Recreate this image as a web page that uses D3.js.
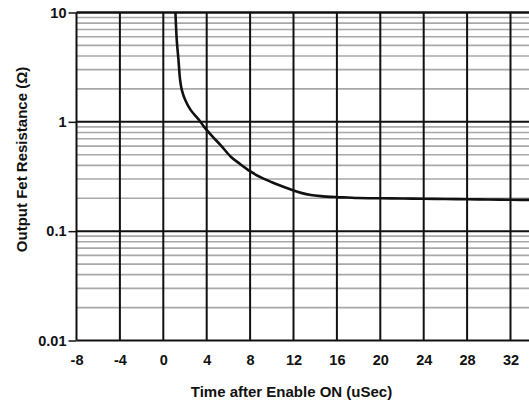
<!DOCTYPE html>
<html><head><meta charset="utf-8">
<script src="https://cdn.jsdelivr.net/npm/d3@7"></script>
<style>body{margin:0;background:#fff;} svg{display:block;font-family:"Liberation Sans",Arial,sans-serif;}</style>
</head><body><svg id="c" width="529" height="406"></svg>
<script>
const xTicks = [-8,-4,0,4,8,12,16,20,24,28,32,36];
const xTickLabels = ["-8","-4","0","4","8","12","16","20","24","28","32",""];
const yTicks = [0.01,0.1,1,10];
const yTickLabels = ["0.01","0.1","1","10"];
const timeUs = [1.12,1.24,1.40,1.55,1.71,2.02,2.53,3.30,3.76,4.5,5.3,6.22,7.1,8.06,9,10,11,11.75,12.7,13.6,14.5,15.9,17,18,20,22,24,26,28,30,32,34,36];
const resistance = [10,5.6,3.67,2.41,1.95,1.585,1.28,1.04,0.90,0.74,0.61,0.48,0.41,0.35,0.31,0.28,0.256,0.24,0.224,0.214,0.209,0.205,0.203,0.201,0.2,0.199,0.198,0.197,0.196,0.195,0.194,0.193,0.192];

const svg = d3.select("#c");
const x = d3.scaleLinear().domain([-8,36]).range([76.5,76.5+44*10.85]);
const y = d3.scaleLog().domain([0.01,10]).range([340.5,12.5]);
const g = svg.append("g");
const FONT = "Liberation Sans, Arial, sans-serif";

// minor horizontal grid
const minors = [];
for (let d of [0.01,0.1,1]) for (let k=2;k<=9;k++) minors.push(d*k);
g.selectAll(".minor").data(minors).enter().append("line")
 .attr("x1",x(-8)).attr("x2",x(36)).attr("y1",d=>y(d)).attr("y2",d=>y(d))
 .attr("stroke","#a8a8a8").attr("stroke-width",1.6);
// major horizontal
g.selectAll(".major").data(yTicks).enter().append("line")
 .attr("x1",x(-8)).attr("x2",x(36)).attr("y1",d=>y(d)).attr("y2",d=>y(d))
 .attr("stroke","#111").attr("stroke-width",d=>d===10?2.6:2);
// vertical grid
g.selectAll(".vert").data(xTicks).enter().append("line")
 .attr("x1",d=>x(d)).attr("x2",d=>x(d)).attr("y1",y(10)).attr("y2",y(0.01))
 .attr("stroke","#111").attr("stroke-width",2);

// axes
const yAxis = d3.axisLeft(y).tickValues(yTicks).tickFormat((d,i)=>yTickLabels[i]).tickSize(8).tickPadding(2);
const ya = svg.append("g").attr("transform",`translate(${x(-8)},0)`).call(yAxis);
ya.select(".domain").remove();
ya.selectAll(".tick line").attr("stroke","#111").attr("stroke-width",1.5);
ya.selectAll("text").attr("font-size",14.5).attr("font-weight","bold").attr("fill","#111").attr("font-family",FONT);

const xAxis = d3.axisBottom(x).tickValues(xTicks).tickFormat((d,i)=>xTickLabels[i]).tickSize(0).tickPadding(14);
const xa = svg.append("g").attr("transform",`translate(0,${y(0.01)})`).call(xAxis);
xa.select(".domain").remove();
xa.selectAll("text").attr("font-size",14.5).attr("font-weight","bold").attr("fill","#111").attr("font-family",FONT);

// curve
const line = d3.line().x((d,i)=>x(timeUs[i])).y(d=>y(d)).curve(d3.curveCatmullRom.alpha(0.5));
svg.append("path").datum(resistance).attr("d",line).attr("fill","none").attr("stroke","#111").attr("stroke-width",2.6);

// titles
svg.append("text").attr("x",291.5).attr("y",397).attr("text-anchor","middle")
 .attr("font-size",15).attr("font-weight","bold").attr("fill","#111").text("Time after Enable ON (uSec)");
svg.append("text").attr("transform","translate(27,159.5) rotate(-90)").attr("text-anchor","middle")
 .attr("font-size",15).attr("font-weight","bold").attr("fill","#111").text("Output Fet Resistance (Ω)");
</script></body></html>
